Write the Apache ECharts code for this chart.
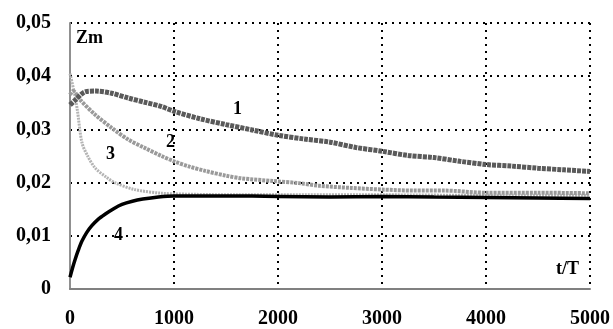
<!DOCTYPE html>
<html>
<head>
<meta charset="utf-8">
<script src="https://cdn.jsdelivr.net/npm/echarts@6/dist/echarts.min.js"></script>
<style>
  html, body { margin: 0; padding: 0; background: #fff; }
  #chart { width: 613px; height: 329px; }
</style>
</head>
<body>
<div id="chart"></div>
<script>
// x ticks (t/T) and y ticks (Zm)
const xTicks = [0, 1000, 2000, 3000, 4000, 5000];
const yTicks = [0, 0.01, 0.02, 0.03, 0.04, 0.05];

// curve 1
const t1 = [0, 50, 150, 250, 400, 560, 720, 880, 1000, 1250, 1500, 1750, 2000, 2250, 2500, 2750, 3000, 3250, 3500, 3750, 4000, 4250, 4500, 4750, 5000];
const zm1 = [0.0346, 0.0355, 0.0371, 0.0372, 0.0368, 0.0359, 0.0351, 0.0343, 0.0334, 0.0320, 0.0309, 0.0299, 0.0289, 0.0282, 0.0276, 0.0266, 0.0259, 0.0251, 0.0247, 0.0240, 0.0234, 0.0231, 0.0227, 0.0224, 0.0221];

// curve 2
const t2 = [0, 30, 100, 240, 400, 560, 720, 880, 1000, 1150, 1300, 1500, 1650, 1950, 2200, 2400, 2700, 3000, 3300, 3600, 4000, 4500, 5000];
const zm2 = [0.0365, 0.0372, 0.0355, 0.0328, 0.0303, 0.0281, 0.0265, 0.0250, 0.0240, 0.0230, 0.0222, 0.0213, 0.0208, 0.0203, 0.0199, 0.0194, 0.0190, 0.0187, 0.0185, 0.0185, 0.0181, 0.0181, 0.0180];

// curve 3
const t3 = [0, 40, 70, 115, 170, 240, 350, 430, 620, 880, 1200, 1600, 2000, 3000, 4000, 5000];
const zm3 = [0.0405, 0.0370, 0.0337, 0.0275, 0.0250, 0.0228, 0.0210, 0.0200, 0.0187, 0.0180, 0.0178, 0.0177, 0.0177, 0.0177, 0.0176, 0.0176];

// curve 4
const t4 = [0, 25, 50, 80, 115, 160, 210, 270, 340, 420, 500, 600, 700, 850, 1000, 1500, 2000, 2500, 3000, 3500, 4000, 4500, 5000];
const zm4 = [0.0022, 0.0040, 0.0056, 0.0073, 0.0090, 0.0106, 0.0119, 0.0131, 0.0141, 0.0151, 0.0159, 0.0165, 0.0169, 0.0173, 0.0175, 0.0175, 0.0174, 0.0173, 0.0174, 0.0173, 0.0172, 0.0171, 0.0170];

const curveLabels = ["1", "2", "3", "4"];

const pairs = (ts, vs) => ts.map((t, i) => [t, vs[i]]);

const serifBold = {
  fontFamily: "Liberation Serif",
  fontWeight: "bold",
  color: "#000"
};

const chart = echarts.init(document.getElementById("chart"));

chart.setOption({
  animation: false,
  backgroundColor: "#fff",
  grid: { left: 70, right: 18, top: 23, bottom: 39 },
  xAxis: {
    type: "value",
    min: xTicks[0],
    max: xTicks[xTicks.length - 1],
    interval: 1000,
    axisLine: { lineStyle: { color: "#808080", width: 2 } },
    axisTick: { show: false },
    axisLabel: { ...serifBold, fontSize: 20, margin: 20, formatter: (v) => String(v) },
    splitLine: { lineStyle: { color: "#000", width: 2, type: [2, 5] } }
  },
  yAxis: {
    type: "value",
    min: yTicks[0],
    max: yTicks[yTicks.length - 1],
    interval: 0.01,
    axisLine: { show: true, lineStyle: { color: "#909090", width: 2 } },
    axisTick: { show: false },
    axisLabel: {
      ...serifBold,
      fontSize: 20,
      margin: 19,
      formatter: (v) => (v === 0 ? "0" : v.toFixed(2).replace(".", ","))
    },
    splitLine: { lineStyle: { color: "#000", width: 2, type: [2, 5] } }
  },
  series: [
    {
      name: curveLabels[2], type: "line", smooth: 0.3, showSymbol: false,
      lineStyle: { color: "#b4b4b4", width: 3, type: [2, 1] },
      data: pairs(t3, zm3)
    },
    {
      name: curveLabels[1], type: "line", smooth: 0.3, showSymbol: false,
      lineStyle: { color: "#9a9a9a", width: 4, type: [3, 1] },
      data: pairs(t2, zm2)
    },
    {
      name: curveLabels[0], type: "line", smooth: 0.3, showSymbol: false,
      lineStyle: { color: "#5a5a5a", width: 5, type: [4, 1] },
      data: pairs(t1, zm1)
    },
    {
      name: curveLabels[3], type: "line", smooth: 0.3, showSymbol: false,
      lineStyle: { color: "#000", width: 3.5 },
      data: pairs(t4, zm4)
    }
  ],
  graphic: [
    { type: "text", left: 76, top: 29, style: { text: "Zm", font: "bold 18px 'Liberation Serif'", fill: "#000" } },
    { type: "text", left: 556, top: 260, style: { text: "t/T", font: "bold 18px 'Liberation Serif'", fill: "#000" } },
    { type: "text", left: 233, top: 100, style: { text: curveLabels[0], font: "bold 18px 'Liberation Serif'", fill: "#000" } },
    { type: "text", left: 166, top: 133, style: { text: curveLabels[1], font: "bold 18px 'Liberation Serif'", fill: "#000" } },
    { type: "text", left: 106, top: 145, style: { text: curveLabels[2], font: "bold 18px 'Liberation Serif'", fill: "#000" } },
    { type: "text", left: 114, top: 226, style: { text: curveLabels[3], font: "bold 18px 'Liberation Serif'", fill: "#000" } }
  ]
});
</script>
</body>
</html>
